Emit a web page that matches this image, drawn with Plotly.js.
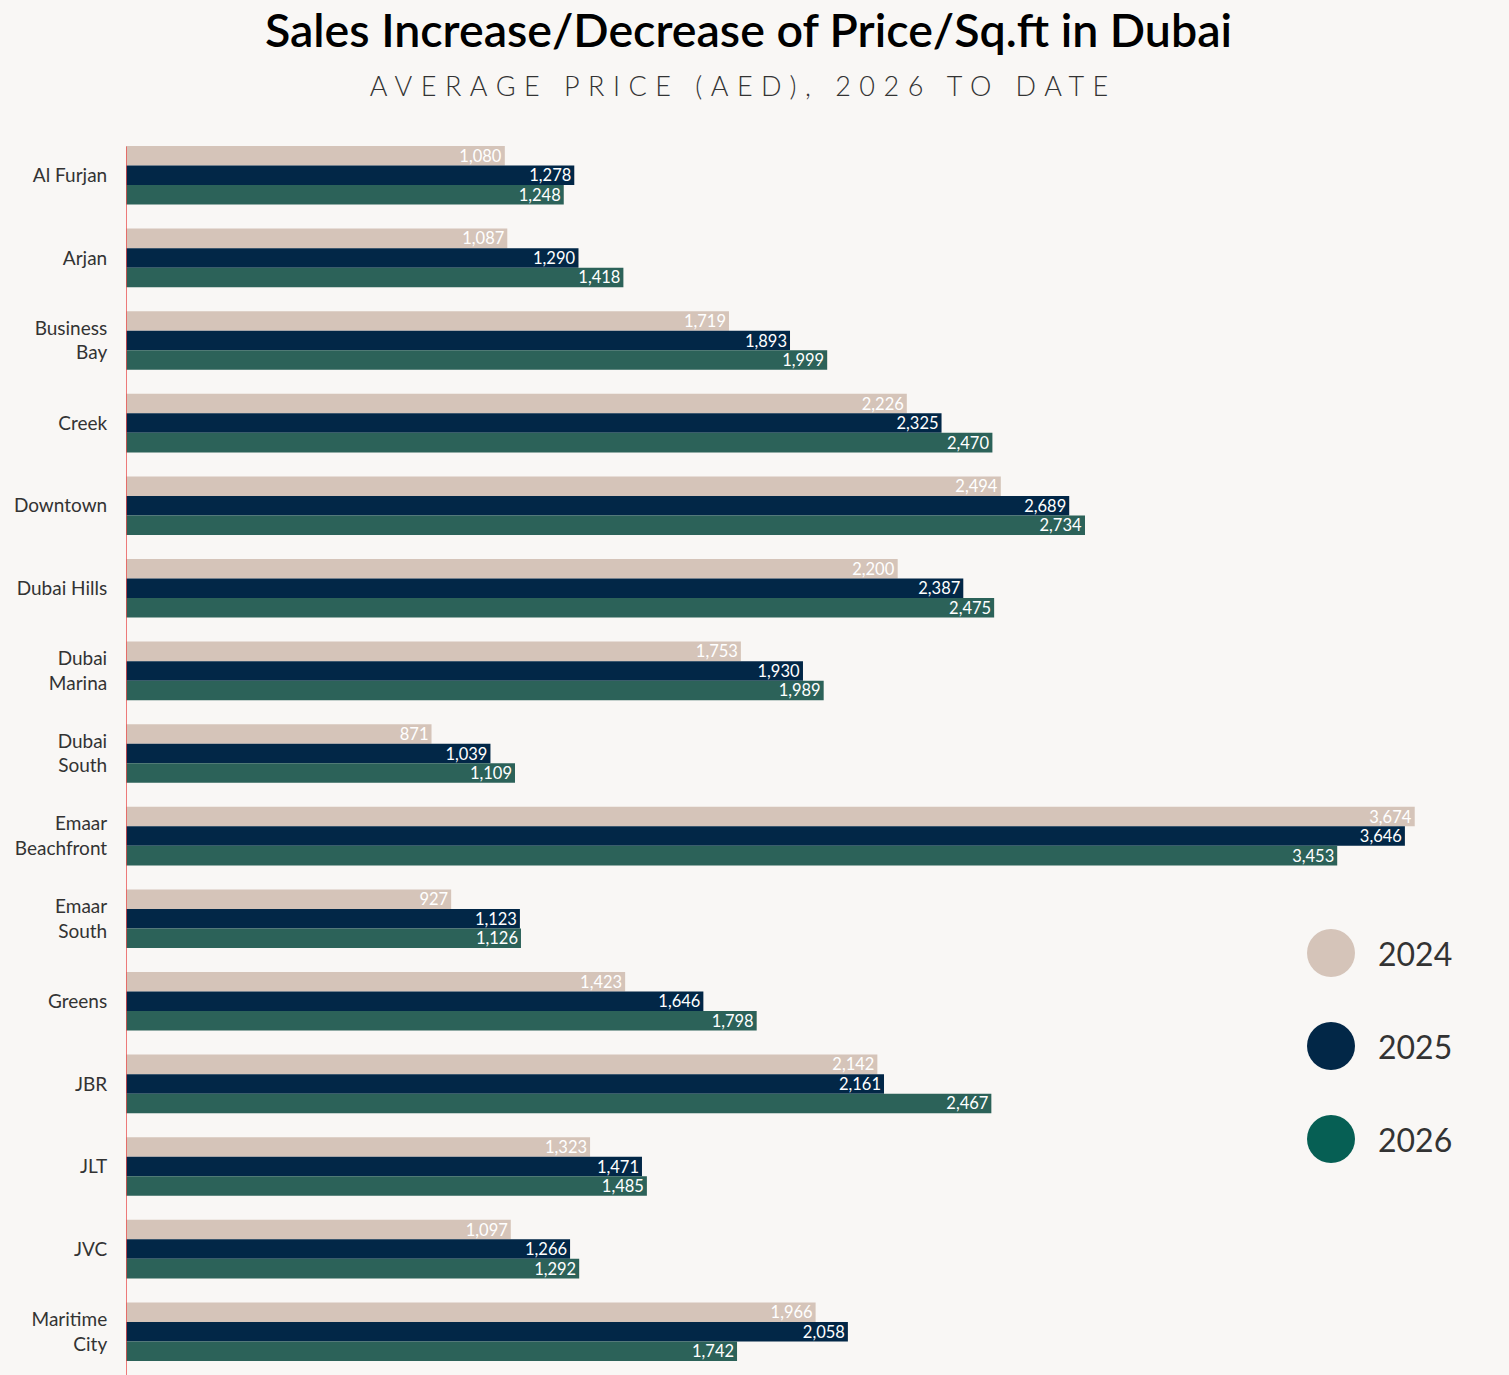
<!DOCTYPE html>
<html>
<head>
<meta charset="utf-8">
<script src="https://cdn.plot.ly/plotly-3.0.1.min.js"></script>
<style>
  html, body { margin: 0; padding: 0; background: #F9F7F5; }
  #chart { width: 1509px; height: 1375px; }
</style>
</head>
<body>
<div id="chart"></div>
<script>
// ---- Data ----
const categories = [
  "Al Furjan", "Arjan", "Business<br>Bay", "Creek", "Downtown", "Dubai Hills",
  "Dubai<br>Marina", "Dubai<br>South", "Emaar<br>Beachfront", "Emaar<br>South",
  "Greens", "JBR", "JLT", "JVC", "Maritime<br>City"
];
const years = ["2024", "2025", "2026"];
const values2024 = [1080, 1087, 1719, 2226, 2494, 2200, 1753, 871, 3674, 927, 1423, 2142, 1323, 1097, 1966];
const values2025 = [1278, 1290, 1893, 2325, 2689, 2387, 1930, 1039, 3646, 1123, 1646, 2161, 1471, 1266, 2058];
const values2026 = [1248, 1418, 1999, 2470, 2734, 2475, 1989, 1109, 3453, 1126, 1798, 2467, 1485, 1292, 1742];

// ---- Styles ----
const barColors = ["#D5C4B9", "#022747", "#2C6259"];
const legendColors = ["#D5C4B9", "#022747", "#065F54"];
const FONT = "Lato, 'Open Sans', sans-serif";
const series = [values2024, values2025, values2026];

const traces = series.map((vals, i) => ({
  type: "bar",
  orientation: "h",
  name: years[i],
  x: vals,
  y: categories,
  marker: { color: barColors[i], line: { width: 0 } },
  texttemplate: "%{x:,}",
  textposition: "inside",
  insidetextanchor: "end",
  insidetextfont: { family: FONT, size: 16.5, color: "#FFFFFF" },
  constraintext: "none",
  hoverinfo: "x+y",
  showlegend: false
}));

// custom circle legend
const legendY = [953, 1046, 1139];
const plotTop = 134, plotBottom = 1373, plotH = plotBottom - plotTop;
const toPaperY = py => (plotBottom - py) / plotH;
const shapes = [
  { type: "line", xref: "x", yref: "paper", x0: 0, x1: 0, y0: -0.01, y1: 0.99,
    line: { color: "#E8504F", width: 1.5 } }
];
const annotations = [
  { text: "AVERAGE PRICE (AED), 2026 TO DATE", xref: "paper", yref: "paper",
    x: (743 - 126) / 1368, y: toPaperY(85), xanchor: "center", yanchor: "middle",
    showarrow: false, font: { family: FONT, size: 27, color: "#333333", weight: 300 } }
];
years.forEach((yr, i) => {
  shapes.push({
    type: "circle", xref: "paper", yref: "paper",
    xsizemode: "pixel", ysizemode: "pixel",
    xanchor: (1331 - 126) / 1368, yanchor: toPaperY(legendY[i]),
    x0: -24, x1: 24, y0: -24, y1: 24,
    fillcolor: legendColors[i], line: { width: 0 }
  });
  annotations.push({
    text: yr, xref: "paper", yref: "paper",
    x: (1376 - 126) / 1368, y: toPaperY(legendY[i]),
    xanchor: "left", yanchor: "middle", showarrow: false,
    font: { family: FONT, size: 32, color: "#333333" }
  });
});

const layout = {
  width: 1509, height: 1375,
  paper_bgcolor: "#F9F7F5", plot_bgcolor: "#F9F7F5",
  margin: { l: 126, r: 15, t: plotTop, b: 1375 - plotBottom, pad: 0 },
  title: {
    text: "Sales Increase/Decrease of Price/Sq.ft in Dubai",
    font: { family: FONT, size: 46.5, color: "#000000", weight: 600 },
    x: 0.496, xanchor: "center", y: 1 - 31 / 1375, yanchor: "middle", yref: "container"
  },
  barmode: "group",
  bargap: 0.29,
  bargroupgap: 0,
  xaxis: {
    range: [0, 3900], visible: false, showgrid: false, zeroline: false, fixedrange: true
  },
  yaxis: {
    autorange: "reversed", showgrid: false, zeroline: false, showline: false,
    ticks: "outside", ticklen: 14, tickcolor: "rgba(0,0,0,0)",
    tickfont: { family: FONT, size: 19, color: "#333333" }, fixedrange: true
  },
  shapes: shapes,
  annotations: annotations,
  showlegend: false
};

Plotly.newPlot("chart", traces, layout, { displayModeBar: false, staticPlot: true }).then(() => {
  const sub = document.querySelector("#chart .annotation-text");
  if (sub) sub.setAttribute("letter-spacing", "8.5px");
});
</script>
</body>
</html>
